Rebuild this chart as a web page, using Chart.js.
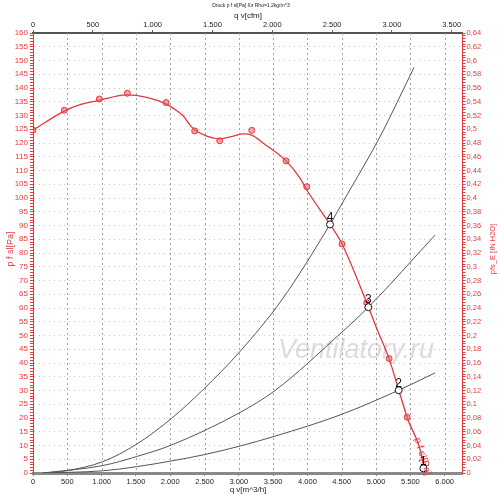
<!DOCTYPE html>
<html>
<head>
<meta charset="utf-8">
<script src="https://cdn.jsdelivr.net/npm/chart.js@4.4.1/dist/chart.umd.min.js"></script>
<style>
  html, body { margin: 0; padding: 0; background: #fff; }
  #wrap { width: 500px; height: 499px; }
</style>
</head>
<body>
<div id="wrap"><canvas id="chart"></canvas></div>
<script>
// Ventilatorkennlinie (Stuetzpunkte der Kurve), q v [m^3/h] / p f sl [Pa]
const fanQ = [0, 456, 710, 967, 1366, 1657, 1939, 2045, 2191, 2289, 2362, 2532, 2721, 2920, 3066, 3188, 3357, 3688, 3892, 3990, 4329, 4504, 4864, 5019, 5190, 5330, 5452, 5690, 5704];
const fanP = [124.7, 131.6, 134.1, 135.5, 137.5, 136.6, 134.2, 132.6, 129.8, 126.5, 124.7, 122.5, 121.5, 122.5, 123.3, 122.9, 119.9, 113.5, 107.2, 102.9, 90.4, 83.3, 61.9, 52, 41.6, 30.2, 20.3, 2.9, 0];

// Messpunkte
const measQ = [0, 456, 967, 1375, 1939, 2357, 2721, 3188, 3688, 3990, 4504, 4864, 5190, 5452];
const measP = [124.7, 131.9, 136.0, 138.1, 134.7, 124.4, 120.8, 124.6, 113.5, 104.1, 83.3, 61.9, 41.6, 20.3];

// Anlagenkennlinien
const sys4Q = [150, 491, 1016, 1511, 2021, 2483, 3017, 3625, 4329, 4548, 5058, 5554];
const sys4P = [0, 0.85, 4.1, 10.5, 19.9, 30.4, 44.2, 62.9, 90.4, 99.9, 122.3, 147.5];
const sys3Q = [150, 1016, 1511, 2021, 3017, 3528, 4475, 4888, 5860];
const sys3P = [0, 2.7, 6.0, 10.2, 22.0, 30.0, 50.6, 60.3, 86.5];
const sys2Q = [150, 1016, 1511, 2021, 2483, 3017, 3528, 4475, 5330, 5860];
const sys2P = [0, 0.8, 2.3, 4.4, 6.6, 9.8, 13.4, 21.1, 30.1, 36.4];

// Betriebspunkte
const opQ = [5690, 5330, 4888, 4329];
const opP = [1.7, 30.1, 60.3, 90.4];
const opLabels = ['1', '2', '3', '4'];

// Achsenteilung
const ticksM3h = [0, 500, 1000, 1500, 2000, 2500, 3000, 3500, 4000, 4500, 5000, 5500, 6000];
const ticksCfm = [0, 500, 1000, 1500, 2000, 2500, 3000, 3500];

const RED = '#e3383c';
const FONT = "'Liberation Sans', Arial, sans-serif";
const NONE = 'rgba(0,0,0,0)';

const toXY = (qs, ps) => qs.map((q, i) => ({ x: q, y: ps[i] }));
const thousands = v => String(v).replace(/\B(?=(\d{3})+(?!\d))/g, '.');
const tickOf = c => (c.tick ? c.tick.value : NaN);
const fixedTicks = list => scale => { scale.ticks = list.map(v => ({ value: v })); };

const textPlugin = {
    id: 'texte',
    beforeDatasetsDraw(chart) {
        const ctx = chart.ctx;
        const x = chart.scales.x;
        const area = chart.chartArea;

        // senkrechte Gitterlinien (gestrichelt)
        ctx.save();
        ctx.strokeStyle = '#a0a0a0';
        ctx.lineWidth = 1;
        ctx.setLineDash([2, 3]);
        ticksM3h.forEach(v => {
            if (v === 0) return;
            const px = Math.round(x.getPixelForValue(v)) + 0.5;
            ctx.beginPath();
            ctx.moveTo(px, area.top);
            ctx.lineTo(px, area.bottom);
            ctx.stroke();
        });
        ctx.restore();

        // Wasserzeichen
        ctx.save();
        ctx.font = 'italic 27px ' + FONT;
        ctx.textAlign = 'left';
        ctx.textBaseline = 'alphabetic';
        ctx.fillStyle = 'rgba(185,185,185,0.5)';
        ctx.fillText('Ventilatory.ru', 278, 358);
        ctx.restore();
    },
    afterDraw(chart) {
        const ctx = chart.ctx;
        const x = chart.scales.x, y = chart.scales.y;
        ctx.save();
        ctx.textAlign = 'center';
        ctx.textBaseline = 'middle';

        // Titel
        ctx.fillStyle = '#222';
        ctx.font = '5px ' + FONT;
        ctx.fillText('Druck p f sl[Pa] für Rho=1,2kg/m^3', 251, 6);
        ctx.font = '8px ' + FONT;
        ctx.fillText('q v[cfm]', 248, 16);
        ctx.fillText('q v[m^3/h]', 248, 490);

        // Achsentitel links / rechts
        ctx.fillStyle = RED;
        ctx.font = '9px ' + FONT;
        ctx.save();
        ctx.translate(10.5, 249);
        ctx.rotate(-Math.PI / 2);
        ctx.fillText('p f sl[Pa]', 0, 0);
        ctx.restore();
        ctx.font = '7.5px ' + FONT;
        ctx.save();
        ctx.translate(493, 249);
        ctx.rotate(-Math.PI / 2);
        ctx.fillText('pfs_E [IN H2O]', 0, 0);
        ctx.restore();

        // Beschriftung an der Kennlinie
        ctx.font = '10px ' + FONT;
        ctx.save();
        ctx.translate(x.getPixelForValue(5680), y.getPixelForValue(6));
        ctx.rotate(73 * Math.PI / 180);
        ctx.fillText('p f sl[Pa]', 0, 0);
        ctx.restore();

        // Nummern der Betriebspunkte
        ctx.fillStyle = '#111';
        ctx.font = '12px ' + FONT;
        opQ.forEach((q, i) => {
            ctx.fillText(opLabels[i], x.getPixelForValue(q), y.getPixelForValue(opP[i]) - 7);
        });
        ctx.restore();
    }
};

new Chart(document.getElementById('chart'), {
    type: 'scatter',
    data: {
        datasets: [
            {
                data: toXY(opQ, opP),
                showLine: false,
                pointRadius: 3.5,
                pointBorderWidth: 1,
                pointBorderColor: '#111',
                pointBackgroundColor: '#fff',
                clip: false
            },
            {
                data: toXY(measQ, measP),
                showLine: false,
                pointRadius: 3,
                pointBorderWidth: 1,
                pointBorderColor: RED,
                pointBackgroundColor: 'rgba(235,90,95,0.55)'
            },
            {
                data: toXY(fanQ, fanP),
                showLine: true,
                borderColor: RED,
                borderWidth: 1.3,
                pointRadius: 0,
                cubicInterpolationMode: 'monotone'
            },
            {
                data: toXY(sys4Q, sys4P),
                showLine: true,
                borderColor: '#555',
                borderWidth: 1,
                pointRadius: 0,
                cubicInterpolationMode: 'monotone'
            },
            {
                data: toXY(sys3Q, sys3P),
                showLine: true,
                borderColor: '#555',
                borderWidth: 1,
                pointRadius: 0,
                cubicInterpolationMode: 'monotone'
            },
            {
                data: toXY(sys2Q, sys2P),
                showLine: true,
                borderColor: '#555',
                borderWidth: 1,
                pointRadius: 0,
                cubicInterpolationMode: 'monotone'
            }
        ]
    },
    options: {
        responsive: true,
        maintainAspectRatio: false,
        animation: false,
        layout: { padding: 0 },
        plugins: {
            legend: { display: false },
            tooltip: { enabled: false }
        },
        scales: {
            x: {
                type: 'linear',
                position: 'bottom',
                min: 0,
                max: 6260,
                afterBuildTicks: fixedTicks(ticksM3h),
                afterFit: s => { s.height = 26; },
                ticks: {
                    autoSkip: false,
                    maxRotation: 0,
                    padding: 1,
                    color: '#222',
                    font: { family: FONT, size: 7.5 },
                    callback: v => thousands(v)
                },
                grid: { drawOnChartArea: false, tickColor: '#888', tickLength: 3 },
                border: { color: '#8a8a8a', width: 3 }
            },
            x2: {
                type: 'linear',
                position: 'top',
                min: 0,
                max: 3590,
                afterBuildTicks: fixedTicks(ticksCfm),
                afterFit: s => { s.height = 33; },
                ticks: {
                    autoSkip: false,
                    maxRotation: 0,
                    padding: 1,
                    color: '#222',
                    font: { family: FONT, size: 7.5 },
                    callback: v => thousands(v)
                },
                grid: { drawOnChartArea: false, tickColor: '#666', tickLength: 3 },
                border: { color: '#555', width: 2 }
            },
            y: {
                type: 'linear',
                position: 'left',
                min: 0,
                max: 160,
                afterFit: s => { s.width = 33; },
                ticks: {
                    stepSize: 1,
                    autoSkip: false,
                    padding: 2,
                    color: RED,
                    font: { family: FONT, size: 8 },
                    callback: v => (v % 5 === 0 ? String(v) : '')
                },
                grid: {
                    color: c => (tickOf(c) % 5 === 0 ? '#c4c4c4' : NONE),
                    tickColor: RED,
                    tickLength: 3
                },
                border: { color: RED, width: 1, dash: [1, 4] }
            },
            y2: {
                type: 'linear',
                position: 'right',
                min: 0,
                max: 0.64,
                afterFit: s => { s.width = 37.5; },
                ticks: {
                    stepSize: 0.004,
                    autoSkip: false,
                    padding: 1,
                    color: RED,
                    font: { family: FONT, size: 7.5 },
                    callback: v => (Math.round(v * 1000) % 20 === 0
                        ? String(Math.round(v * 100) / 100).replace('.', ',')
                        : '')
                },
                grid: { drawOnChartArea: false, tickColor: RED, tickLength: 3 },
                border: { color: RED, width: 1 }
            }
        }
    },
    plugins: [textPlugin]
});
</script>
</body>
</html>
